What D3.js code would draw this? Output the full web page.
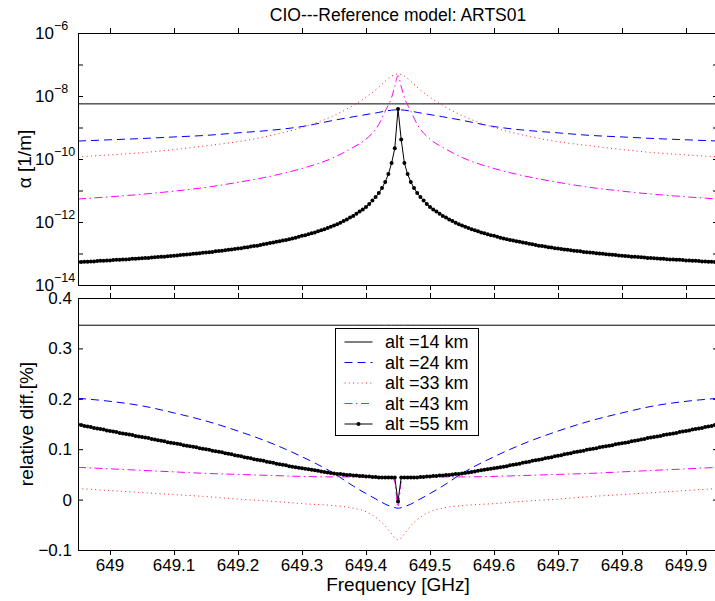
<!DOCTYPE html>
<html>
  <head>
    <meta charset="UTF-8">
    <title>CIO---Reference model: ARTS01</title>
    <style>
      body { margin: 0; background: #fff; }
      svg text { font-family: "Liberation Sans", Arial, sans-serif; font-size: 17px; fill: #000; }
    </style>
  </head>
  <body>

    <svg class="chart"></svg>

    <script src="https://d3js.org/d3.v7.min.js"></script>
    <script>

/* DATA */

// frequency grid of the dense (55 km) series: 201 points, 0.005 GHz apart
var fineStart = 648.95, fineStep = 0.005, fineCount = 201;

// sparse frequency grid for the other altitudes [GHz]
var freqCoarse = [648.95, 649.0, 649.05, 649.1, 649.15, 649.2, 649.25, 649.3, 649.35, 649.38, 649.4,
  649.42, 649.43, 649.44, 649.445, 649.45, 649.455, 649.46, 649.47, 649.48, 649.5, 649.52,
  649.55, 649.6, 649.65, 649.7, 649.75, 649.8, 649.85, 649.9, 649.95];

// top panel: log10(alpha [1/m])
var alpha14 = [-8.25,-8.25,-8.25,-8.25,-8.25,-8.25,-8.25,-8.25,-8.25,-8.25,-8.25,-8.25,-8.25,-8.25,-8.25,-8.25,
  -8.25,-8.25,-8.25,-8.25,-8.25,-8.25,-8.25,-8.25,-8.25,-8.25,-8.25,-8.25,-8.25,-8.25,-8.25];
var alpha24 = [-9.43,-9.39,-9.35,-9.30,-9.25,-9.17,-9.09,-8.97,-8.77,-8.66,-8.59,-8.52,-8.48,-8.45,-8.44,-8.44,
  -8.44,-8.45,-8.48,-8.52,-8.59,-8.66,-8.77,-8.97,-9.09,-9.17,-9.25,-9.30,-9.35,-9.39,-9.43];
var alpha33 = [-9.93,-9.87,-9.80,-9.70,-9.58,-9.45,-9.26,-9.00,-8.62,-8.30,-8.04,-7.72,-7.53,-7.37,-7.32,-7.30,
  -7.32,-7.37,-7.53,-7.72,-8.04,-8.30,-8.62,-9.00,-9.26,-9.45,-9.58,-9.70,-9.80,-9.87,-9.93];
var alpha43 = [-11.27,-11.20,-11.12,-11.02,-10.90,-10.74,-10.55,-10.30,-9.95,-9.63,-9.37,-8.90,-8.48,-8.05,-7.70,-7.35,
  -7.70,-8.05,-8.48,-8.90,-9.37,-9.63,-9.95,-10.30,-10.55,-10.74,-10.90,-11.02,-11.12,-11.20,-11.27];
var alpha55 = [
  -13.27,-13.27,-13.26,-13.26,-13.25,-13.25,-13.24,-13.23,-13.23,-13.22,
  -13.22,-13.21,-13.20,-13.20,-13.19,-13.19,-13.18,-13.17,-13.17,-13.16,
  -13.15,-13.14,-13.14,-13.13,-13.12,-13.11,-13.10,-13.10,-13.09,-13.08,
  -13.07,-13.06,-13.05,-13.04,-13.03,-13.02,-13.01,-13.00,-12.99,-12.98,
  -12.97,-12.96,-12.95,-12.93,-12.92,-12.91,-12.90,-12.88,-12.87,-12.86,
  -12.84,-12.83,-12.81,-12.80,-12.78,-12.76,-12.75,-12.73,-12.71,-12.69,
  -12.67,-12.65,-12.63,-12.61,-12.59,-12.57,-12.55,-12.52,-12.50,-12.47,
  -12.44,-12.42,-12.39,-12.36,-12.33,-12.29,-12.26,-12.23,-12.19,-12.15,
  -12.11,-12.07,-12.02,-11.97,-11.92,-11.86,-11.81,-11.74,-11.67,-11.60,
  -11.52,-11.43,-11.32,-11.21,-11.08,-10.92,-10.73,-10.48,-10.13,-9.66,
  -8.41,
  -9.38,-10.13,-10.48,-10.73,-10.92,-11.08,-11.21,-11.32,-11.43,-11.52,
  -11.60,-11.67,-11.74,-11.81,-11.86,-11.92,-11.97,-12.02,-12.07,-12.11,
  -12.15,-12.19,-12.23,-12.26,-12.29,-12.33,-12.36,-12.39,-12.42,-12.44,
  -12.47,-12.50,-12.52,-12.55,-12.57,-12.59,-12.61,-12.63,-12.65,-12.67,
  -12.69,-12.71,-12.73,-12.75,-12.76,-12.78,-12.80,-12.81,-12.83,-12.84,
  -12.86,-12.87,-12.88,-12.90,-12.91,-12.92,-12.93,-12.95,-12.96,-12.97,
  -12.98,-12.99,-13.00,-13.01,-13.02,-13.03,-13.04,-13.05,-13.06,-13.07,
  -13.08,-13.09,-13.10,-13.10,-13.11,-13.12,-13.13,-13.14,-13.14,-13.15,
  -13.16,-13.17,-13.17,-13.18,-13.19,-13.19,-13.20,-13.20,-13.21,-13.22,
  -13.22,-13.23,-13.23,-13.24,-13.25,-13.25,-13.26,-13.26,-13.27,-13.27];

// bottom panel: relative difference [%]
var diff14 = [0.346,0.346,0.346,0.346,0.346,0.346,0.346,0.346,0.346,0.346,0.346,0.346,0.346,0.346,0.346,0.346,
  0.346,0.346,0.346,0.346,0.346,0.346,0.346,0.346,0.346,0.346,0.346,0.346,0.346,0.346,0.346];
var diff24 = [0.201,0.195,0.186,0.172,0.156,0.136,0.113,0.085,0.052,0.027,0.012,-0.002,-0.009,-0.014,-0.016,-0.017,
  -0.016,-0.014,-0.009,-0.002,0.012,0.027,0.052,0.085,0.113,0.136,0.156,0.172,0.186,0.195,0.201];
var diff33 = [0.022,0.018,0.014,0.010,0.006,0.001,-0.003,-0.008,-0.012,-0.017,-0.024,-0.040,-0.052,-0.068,-0.076,-0.080,
  -0.076,-0.068,-0.052,-0.040,-0.024,-0.017,-0.012,-0.008,-0.003,0.001,0.006,0.010,0.014,0.018,0.022];
var diff43 = [0.064,0.061,0.058,0.055,0.052,0.050,0.048,0.046,0.045,0.045,0.045,0.045,0.045,0.044,0.035,-0.015,
  0.035,0.044,0.045,0.045,0.045,0.045,0.045,0.046,0.048,0.050,0.052,0.055,0.058,0.061,0.064];
var diff55 = [
  0.149,0.148,0.146,0.145,0.144,0.142,0.141,0.140,0.139,0.137,
  0.136,0.135,0.134,0.132,0.131,0.130,0.129,0.128,0.126,0.125,
  0.124,0.123,0.122,0.120,0.119,0.118,0.117,0.116,0.114,0.113,
  0.112,0.111,0.110,0.108,0.107,0.106,0.105,0.104,0.102,0.101,
  0.100,0.099,0.097,0.096,0.095,0.094,0.092,0.091,0.090,0.088,
  0.087,0.086,0.084,0.083,0.082,0.080,0.079,0.078,0.077,0.075,
  0.074,0.073,0.071,0.070,0.069,0.068,0.066,0.065,0.064,0.063,
  0.062,0.061,0.060,0.059,0.058,0.057,0.056,0.055,0.054,0.053,
  0.052,0.051,0.051,0.050,0.049,0.049,0.048,0.048,0.047,0.047,
  0.046,0.046,0.045,0.045,0.044,0.044,0.044,0.044,0.044,0.044,
  -0.004,
  0.044,0.044,0.044,0.044,0.044,0.044,0.045,0.045,0.046,0.046,
  0.047,0.047,0.048,0.048,0.049,0.049,0.050,0.051,0.051,0.052,
  0.053,0.054,0.055,0.056,0.057,0.058,0.059,0.060,0.061,0.062,
  0.063,0.064,0.065,0.066,0.068,0.069,0.070,0.071,0.073,0.074,
  0.075,0.077,0.078,0.079,0.080,0.082,0.083,0.084,0.086,0.087,
  0.088,0.090,0.091,0.092,0.094,0.095,0.096,0.097,0.099,0.100,
  0.101,0.102,0.104,0.105,0.106,0.107,0.108,0.110,0.111,0.112,
  0.113,0.114,0.116,0.117,0.118,0.119,0.120,0.122,0.123,0.124,
  0.125,0.126,0.128,0.129,0.130,0.131,0.132,0.134,0.135,0.136,
  0.137,0.139,0.140,0.141,0.142,0.144,0.145,0.146,0.148,0.149];

var altitudes = ["alt =14 km", "alt =24 km", "alt =33 km", "alt =43 km", "alt =55 km"];

// ticks
var xTicks = [649, 649.1, 649.2, 649.3, 649.4, 649.5, 649.6, 649.7, 649.8, 649.9];
var xTickLabels = ["649", "649.1", "649.2", "649.3", "649.4", "649.5", "649.6", "649.7", "649.8", "649.9"];
var logExponents = [-6, -7, -8, -9, -10, -11, -12, -13, -14];
var logLabelled = [-6, -8, -10, -12, -14];
var diffTicks = [-0.1, 0, 0.1, 0.2, 0.3, 0.4];
var diffTickLabels = ["\u22120.1", "0", "0.1", "0.2", "0.3", "0.4"];

/* STYLES */
var styles = [
  { color: "#000000", dash: null,            width: 1 },
  { color: "#0000ff", dash: "8,5",           width: 1 },
  { color: "#ff2020", dash: "1,3.3",         width: 1 },
  { color: "#ff00ff", dash: "8,3.5,1.5,3.5", width: 1 },
  { color: "#000000", dash: null,            width: 1 }
];

/* LAYOUT */
var width = 715, height = 601;
var left = 78, right = 718;
var top1 = 33, bot1 = 285, top2 = 298, bot2 = 550;

var svg = d3.select("svg")
  .attr("width", width)
  .attr("height", height);

var x = d3.scaleLinear().domain([648.95, 649.95]).range([left, right]);
var yTop = d3.scaleLog().domain([1e-14, 1e-6]).range([bot1, top1]);
var yBot = d3.scaleLinear().domain([-0.1, 0.4]).range([bot2, top2]);

var fineFreq = d3.range(fineCount).map(function(i) { return fineStart + i * fineStep; });

// clip paths
var defs = svg.append("defs");
defs.append("clipPath").attr("id", "clipTop")
  .append("rect").attr("x", left).attr("y", top1).attr("width", right - left).attr("height", bot1 - top1);
defs.append("clipPath").attr("id", "clipBot")
  .append("rect").attr("x", left).attr("y", top2).attr("width", right - left).attr("height", bot2 - top2);

// ---------- ticks & frame ----------
function xTicksFor(yEdge, inward) {
  var ax = (inward > 0 ? d3.axisTop(x) : d3.axisBottom(x))
    .tickValues(xTicks).tickSize(-5).tickSizeOuter(0).tickFormat("");
  var g = svg.append("g").attr("transform", "translate(0," + yEdge + ")").call(ax);
  g.select(".domain").remove();
  g.selectAll("line").attr("stroke", "#000");
  return g;
}

function yTicksFor(scale, values) {
  var gl = svg.append("g").attr("transform", "translate(" + left + ",0)")
    .call(d3.axisLeft(scale).tickValues(values).tickSize(-5).tickSizeOuter(0).tickFormat(""));
  var gr = svg.append("g").attr("transform", "translate(" + right + ",0)")
    .call(d3.axisRight(scale).tickValues(values).tickSize(-5).tickSizeOuter(0).tickFormat(""));
  gl.select(".domain").remove();
  gr.select(".domain").remove();
}

// top panel
xTicksFor(top1, -1);
xTicksFor(bot1, 1);
yTicksFor(yTop, logExponents.map(function(e) { return Math.pow(10, e); }));
// bottom panel
xTicksFor(top2, -1);
xTicksFor(bot2, 1);
yTicksFor(yBot, diffTicks);

// x tick labels of the bottom panel
svg.append("g").selectAll("text")
  .data(xTicks)
  .enter().append("text")
    .attr("x", function(d) { return x(d); })
    .attr("y", 571)
    .attr("text-anchor", "middle")
    .text(function(d, i) { return xTickLabels[i]; });

// log tick labels: 10^n, left aligned like the original
var logLab = svg.append("g").selectAll("text")
  .data(logLabelled)
  .enter().append("text")
    .attr("x", 35)
    .attr("y", function(d) { return yTop(Math.pow(10, d)) + 6; });
logLab.append("tspan").text("10");
logLab.append("tspan")
  .attr("dy", -9)
  .style("font-size", "12.5px")
  .text(function(d) { return "\u2212" + Math.abs(d); });

// linear tick labels
svg.append("g").selectAll("text")
  .data(diffTicks)
  .enter().append("text")
    .attr("x", 72)
    .attr("y", function(d) { return yBot(d) + 6; })
    .attr("text-anchor", "end")
    .text(function(d, i) { return diffTickLabels[i]; });

// ---------- data ----------
function drawSeries(clip, yScale, series, isLog) {
  var g = svg.append("g").attr("clip-path", "url(#" + clip + ")");
  series.forEach(function(s, i) {
    var st = styles[i];
    var pts = s.values.map(function(v, j) {
      return [x(s.freq[j]), yScale(isLog ? Math.pow(10, v) : v)];
    });
    var line = d3.line().curve(s.dense ? d3.curveLinear : d3.curveMonotoneX);
    g.append("path")
      .attr("d", line(pts))
      .attr("fill", "none")
      .attr("stroke", st.color)
      .attr("stroke-width", st.width)
      .attr("stroke-dasharray", st.dash);
    if (s.dense) {
      g.append("g").selectAll("circle")
        .data(pts)
        .enter().append("circle")
          .attr("cx", function(d) { return d[0]; })
          .attr("cy", function(d) { return d[1]; })
          .attr("r", 2)
          .attr("fill", "#000");
    }
  });
}

drawSeries("clipTop", yTop, [
  { freq: freqCoarse, values: alpha14 },
  { freq: freqCoarse, values: alpha24 },
  { freq: freqCoarse, values: alpha33 },
  { freq: freqCoarse, values: alpha43 },
  { freq: fineFreq, values: alpha55, dense: true }
], true);

drawSeries("clipBot", yBot, [
  { freq: freqCoarse, values: diff14 },
  { freq: freqCoarse, values: diff24 },
  { freq: freqCoarse, values: diff33 },
  { freq: freqCoarse, values: diff43 },
  { freq: fineFreq, values: diff55, dense: true }
], false);

// axes boxes
[[top1, bot1], [top2, bot2]].forEach(function(p) {
  svg.append("rect")
    .attr("x", left + 0.5).attr("y", p[0] + 0.5)
    .attr("width", right - left).attr("height", p[1] - p[0])
    .attr("fill", "none").attr("stroke", "#000").attr("stroke-width", 1);
});

// ---------- legend ----------
var leg = svg.append("g").attr("transform", "translate(335.5,328.5)");
leg.append("rect")
  .attr("width", 143).attr("height", 107)
  .attr("fill", "#fff").attr("stroke", "#000").attr("stroke-width", 1);
altitudes.forEach(function(name, i) {
  var cy = 13.5 + i * 20.5;
  var st = styles[i];
  leg.append("line")
    .attr("x1", 9).attr("x2", 37).attr("y1", cy).attr("y2", cy)
    .attr("stroke", st.color).attr("stroke-width", st.width)
    .attr("stroke-dasharray", st.dash);
  if (i === 4) {
    leg.append("circle").attr("cx", 23).attr("cy", cy).attr("r", 2).attr("fill", "#000");
  }
  leg.append("text")
    .attr("x", 49.5).attr("y", cy + 6)
    .style("font-size", "18px")
    .text(name);
});

// ---------- titles ----------
svg.append("text")
  .attr("x", (left + right) / 2).attr("y", 21)
  .attr("text-anchor", "middle")
  .style("font-size", "17.5px")
  .text("CIO---Reference model: ARTS01");

svg.append("text")
  .attr("x", (left + right) / 2).attr("y", 591)
  .attr("text-anchor", "middle")
  .style("font-size", "19px")
  .text("Frequency [GHz]");

svg.append("text")
  .attr("transform", "translate(31," + (top1 + bot1) / 2 + ") rotate(-90)")
  .attr("text-anchor", "middle")
  .style("font-size", "19px")
  .text("\u03b1 [1/m]");

svg.append("text")
  .attr("transform", "translate(33," + (top2 + bot2) / 2 + ") rotate(-90)")
  .attr("text-anchor", "middle")
  .style("font-size", "19px")
  .text("relative diff.[%]");

    </script>
  </body>
</html>
